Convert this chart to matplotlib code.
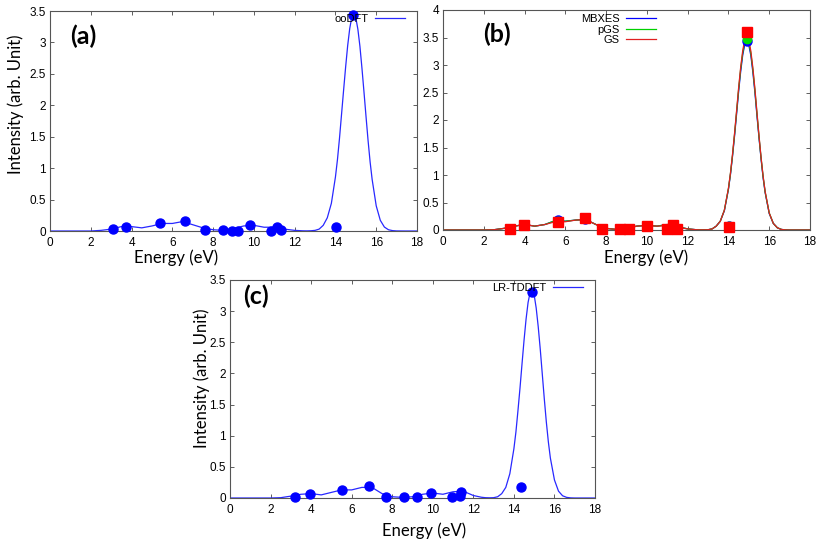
import matplotlib
matplotlib.use('Agg')
import matplotlib.pyplot as plt
from matplotlib.ticker import FormatStrFormatter, MultipleLocator

# energy grid of the broadened spectra (eV)
e_grid = [0.0, 2.0, 2.5, 3.0, 3.5, 4.0, 4.5, 5.0, 5.5, 6.0, 6.5, 7.0, 7.5, 8.0, 8.5,
          9.0, 9.5, 10.0, 10.5, 11.0, 11.5, 12.0,
          12.4, 12.6, 12.8, 13.0, 13.2, 13.4, 13.6, 13.8,
          14.0, 14.1, 14.2, 14.3, 14.4, 14.5, 14.6, 14.7, 14.8, 14.9,
          15.0, 15.1, 15.2, 15.3, 15.4, 15.5, 15.6, 15.7, 15.8,
          16.0, 16.2, 16.4, 16.6, 16.8, 17.0, 17.4, 18.0]

# (a) ooDFT
oodft_curve = [0, 0, 0.01, 0.03, 0.07, 0.07, 0.05, 0.08, 0.12, 0.12, 0.15, 0.10, 0.05, 0.02, 0.01,
               0.04, 0.08, 0.09, 0.06, 0.06, 0.03, 0.01,
               0.003, 0.002, 0.004, 0.01, 0.03, 0.09, 0.21, 0.44,
               0.86, 1.14, 1.48, 1.86, 2.24, 2.61, 2.95, 3.22, 3.40, 3.46,
               3.39, 3.21, 2.94, 2.59, 2.21, 1.82, 1.44, 1.10, 0.82,
               0.40, 0.17, 0.063, 0.02, 0.006, 0.001, 0.0, 0.0]
oodft_e = [3.1, 3.75, 5.4, 6.6, 7.6, 8.5, 8.95, 9.2, 9.8, 10.85, 11.15, 11.35, 14.05, 14.88]
oodft_i = [0.03, 0.07, 0.12, 0.16, 0.02, 0.01, 0.005, 0.005, 0.09, 0.005, 0.06, 0.01, 0.07, 3.43]

# (b) MBXES / pGS / GS
mbxes_curve = [0, 0, 0.005, 0.03, 0.07, 0.10, 0.07, 0.10, 0.17, 0.16, 0.18, 0.19, 0.10, 0.03, 0.01,
               0.03, 0.07, 0.085, 0.07, 0.10, 0.06, 0.02,
               0.006, 0.003, 0.003, 0.005, 0.02, 0.07, 0.16, 0.35,
               0.74, 1.01, 1.34, 1.71, 2.11, 2.52, 2.88, 3.18, 3.37, 3.43,
               3.36, 3.17, 2.86, 2.49, 2.07, 1.67, 1.29, 0.95, 0.68,
               0.30, 0.12, 0.04, 0.01, 0.002, 0.0, 0.0, 0.0]
pgs_curve = [0, 0, 0.005, 0.03, 0.07, 0.10, 0.07, 0.10, 0.17, 0.16, 0.18, 0.19, 0.10, 0.03, 0.01,
             0.03, 0.07, 0.085, 0.07, 0.10, 0.06, 0.02,
             0.006, 0.003, 0.003, 0.005, 0.02, 0.07, 0.16, 0.36,
             0.75, 1.03, 1.36, 1.74, 2.15, 2.56, 2.93, 3.22, 3.42, 3.48,
             3.41, 3.21, 2.91, 2.53, 2.11, 1.69, 1.31, 0.97, 0.69,
             0.31, 0.12, 0.04, 0.01, 0.002, 0.0, 0.0, 0.0]
gs_curve = [0, 0, 0.005, 0.03, 0.07, 0.10, 0.07, 0.10, 0.15, 0.15, 0.18, 0.19, 0.10, 0.03, 0.01,
            0.03, 0.07, 0.085, 0.07, 0.08, 0.05, 0.02,
            0.006, 0.003, 0.003, 0.005, 0.02, 0.07, 0.16, 0.36,
            0.76, 1.04, 1.38, 1.76, 2.17, 2.59, 2.96, 3.26, 3.46, 3.52,
            3.45, 3.25, 2.94, 2.56, 2.13, 1.71, 1.32, 0.98, 0.70,
            0.31, 0.12, 0.04, 0.01, 0.002, 0.0, 0.0, 0.0]
b_e = [3.3, 3.95, 5.65, 6.95, 7.8, 8.7, 9.12, 10.0, 11.0, 11.28, 11.5, 14.03, 14.92]
mbxes_i = [0.025, 0.09, 0.18, 0.20, 0.02, 0.01, 0.01, 0.08, 0.01, 0.09, 0.01, 0.08, 3.43]
pgs_i = [0.025, 0.09, 0.17, 0.21, 0.02, 0.01, 0.01, 0.08, 0.01, 0.10, 0.01, 0.07, 3.47]
gs_i = [0.025, 0.09, 0.15, 0.21, 0.02, 0.01, 0.01, 0.08, 0.01, 0.09, 0.01, 0.06, 3.60]

# (c) LR-TDDFT
tddft_curve = [0, 0, 0.005, 0.03, 0.06, 0.07, 0.05, 0.09, 0.13, 0.13, 0.17, 0.17, 0.07, 0.02, 0.01,
               0.02, 0.06, 0.08, 0.06, 0.10, 0.11, 0.04,
               0.012, 0.005, 0.003, 0.005, 0.02, 0.07, 0.17, 0.39,
               0.79, 1.06, 1.40, 1.76, 2.15, 2.53, 2.87, 3.14, 3.30, 3.34,
               3.26, 3.05, 2.75, 2.39, 1.99, 1.59, 1.22, 0.90, 0.64,
               0.29, 0.11, 0.036, 0.01, 0.002, 0.0, 0.0, 0.0]
tddft_e = [3.2, 3.95, 5.5, 6.84, 7.68, 8.6, 9.2, 9.9, 10.95, 11.35, 11.38, 14.33, 14.9]
tddft_i = [0.02, 0.07, 0.13, 0.19, 0.02, 0.01, 0.01, 0.08, 0.02, 0.03, 0.09, 0.18, 3.3]

W, H = 822, 545
label_font = 'Lato'
tick_font = 'Liberation Sans'


def rect(l, t, r, b):
    return [l / W, 1 - b / H, (r - l) / W, (b - t) / H]


def fpos(x, y):
    return x / W, 1 - y / H


def style_axes(ax, ymax):
    ax.set_xlim(0, 18)
    ax.set_ylim(0, ymax)
    ax.xaxis.set_major_locator(MultipleLocator(2))
    ax.yaxis.set_major_locator(MultipleLocator(0.5))
    ax.yaxis.set_major_formatter(FormatStrFormatter('%g'))
    ax.tick_params(direction='in', top=True, right=True, length=3, width=0.6,
                   color='#444444', labelsize=8.5, pad=3)
    ax.tick_params(axis='x', pad=4)
    for lab in ax.get_xticklabels() + ax.get_yticklabels():
        lab.set_fontfamily(tick_font)
    for sp in ax.spines.values():
        sp.set_color('#555555')
        sp.set_linewidth(0.8)


def add_legend(ax, anchor):
    leg = ax.legend(loc='upper right', bbox_to_anchor=anchor, bbox_transform=fig.transFigure,
                    frameon=False, markerfirst=False, handlelength=2.7, handletextpad=0.6,
                    borderpad=0, borderaxespad=0, labelspacing=0.05,
                    prop={'family': tick_font, 'size': 8})
    return leg


fig = plt.figure(figsize=(W / 100, H / 100), dpi=100)
ax_a = fig.add_axes(rect(50, 11, 417, 231))
ax_b = fig.add_axes(rect(443, 10, 810, 230))
ax_c = fig.add_axes(rect(230, 280, 595, 498))

# panel (a)
ax_a.plot(e_grid, oodft_curve, color='#2828ff', lw=0.9, label='ooDFT')
ax_a.plot(oodft_e, oodft_i, 'o', color='#0000ff', ms=6.5, clip_on=False, zorder=5)
style_axes(ax_a, 3.5)
add_legend(ax_a, fpos(405, 14))

# panel (b)
ax_b.plot(e_grid, mbxes_curve, color='#0000ff', lw=0.9, label='MBXES')
ax_b.plot(e_grid, pgs_curve, color='#00d000', lw=0.9, label='pGS')
ax_b.plot(e_grid, gs_curve, color='#e02020', lw=0.9, label='GS')
ax_b.plot(b_e, mbxes_i, 'o', color='#0000ff', ms=6.5, clip_on=False, zorder=5)
ax_b.plot(b_e, pgs_i, 'o', color='#00e000', ms=6, clip_on=False, zorder=6)
ax_b.plot(b_e, gs_i, 's', color='#ff0000', ms=6.5, clip_on=False, zorder=7)
style_axes(ax_b, 4)
add_legend(ax_b, fpos(656, 14))

# panel (c)
ax_c.plot(e_grid, tddft_curve, color='#2828ff', lw=0.9, label='LR-TDDFT')
ax_c.plot(tddft_e, tddft_i, 'o', color='#0000ff', ms=6.5, clip_on=False, zorder=5)
style_axes(ax_c, 3.5)
add_legend(ax_c, fpos(583, 283))

# panel letters
for (x, y), txt in [((83, 36), '(a)'), ((497, 34), '(b)'), ((256, 296), '(c)')]:
    fig.text(*fpos(x, y), txt, ha='center', va='center', fontsize=18,
             fontweight='bold', family=label_font)

# axis titles
for (x, y) in [(176, 258), (646, 258), (424, 531)]:
    fig.text(*fpos(x, y), 'Energy (eV)', ha='center', va='center', fontsize=12, family=label_font)
for (x, y) in [(16, 104), (202, 378)]:
    fig.text(*fpos(x, y), 'Intensity (arb. Unit)', ha='center', va='center', rotation=90,
             fontsize=12, family=label_font)

fig.savefig('out.png', dpi=100)
